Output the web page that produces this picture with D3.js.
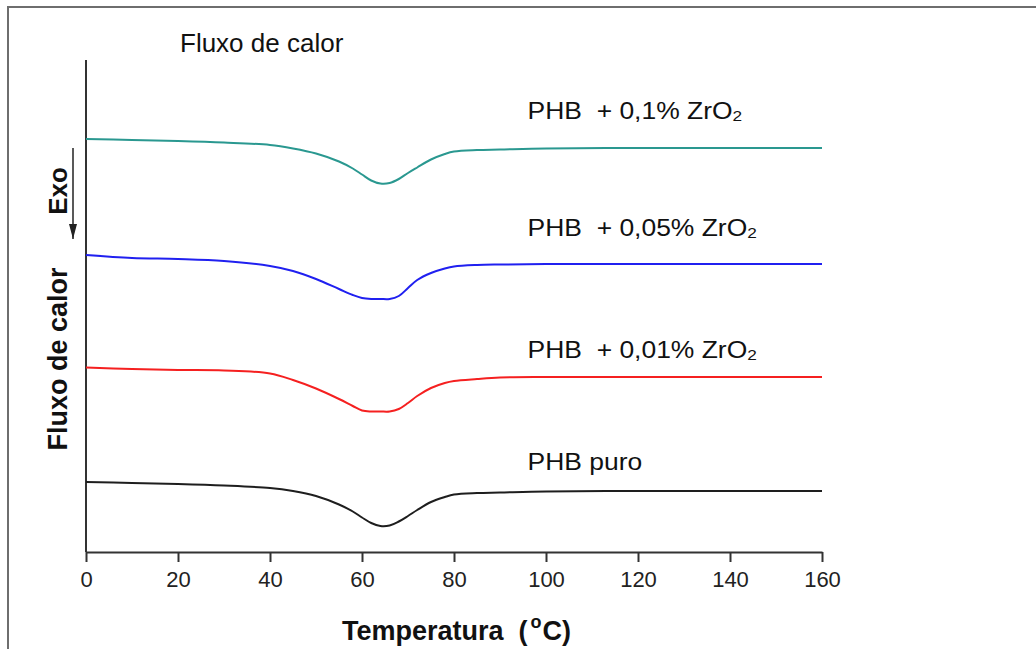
<!DOCTYPE html>
<html>
<head>
<meta charset="utf-8">
<script src="https://cdn.jsdelivr.net/npm/d3@7"></script>
<style>
  body { margin: 0; background: #fff; }
  text { font-family: "Liberation Sans", Arial, sans-serif; }
</style>
</head>
<body>
<div id="chart"></div>
<script>
// temperatures (°C) at which the curves were read
var temps = [0, 10, 20, 30, 40, 45, 50, 55, 58, 60, 62, 64, 66, 68, 70, 72, 75, 78, 80, 85, 90, 100, 120, 140, 160];
// heat flow, arbitrary units (curves are offset vertically)
var phb01 = [82.6, 82.4, 82.2, 81.9, 81.4, 80.7, 79.7, 78.1, 76.7, 75.5, 74.3, 73.7, 73.8, 74.6, 75.8, 76.9, 78.5, 79.6, 80.1, 80.4, 80.5, 80.7, 80.8, 80.8, 80.8];
var phb005 = [59.4, 58.8, 58.6, 58.2, 57.2, 56.2, 54.6, 52.6, 51.4, 50.8, 50.6, 50.6, 50.6, 51.2, 52.8, 54.4, 55.8, 56.7, 57.1, 57.4, 57.5, 57.6, 57.6, 57.6, 57.6];
var phb001 = [36.9, 36.6, 36.4, 36.3, 35.7, 34.4, 32.7, 30.6, 29.2, 28.3, 28.1, 28.1, 28.1, 28.6, 29.8, 31.2, 32.8, 33.8, 34.2, 34.6, 34.9, 35.0, 35.0, 35.0, 35.0];
var phbPuro = [14.0, 13.8, 13.6, 13.3, 12.8, 12.2, 11.2, 9.5, 8.1, 6.9, 5.8, 5.2, 5.3, 6.1, 7.2, 8.4, 10.0, 11.0, 11.5, 11.8, 11.9, 12.1, 12.2, 12.2, 12.2];
var seriesNames = ["PHB  + 0,1% ZrO", "PHB  + 0,05% ZrO", "PHB  + 0,01% ZrO", "PHB puro"];
var seriesSub = ["2", "2", "2", ""];
var seriesColors = ["#2a9890", "#2020f0", "#f52020", "#1e1e1e"];
var xTicks = [0, 20, 40, 60, 80, 100, 120, 140, 160];

var series = [phb01, phb005, phb001, phbPuro].map(function (vals, i) {
    return { name: seriesNames[i], sub: seriesSub[i], color: seriesColors[i],
             points: temps.map(function (t, j) { return [t, vals[j]]; }) };
});

var width = 1036, height = 649;
var svg = d3.select("#chart").append("svg")
    .attr("width", width)
    .attr("height", height);

var x = d3.scaleLinear().domain([0, 160]).range([86, 822]);
var y = d3.scaleLinear().domain([0, 100]).range([552, 52]);

// frame of the figure
svg.append("path")
    .attr("d", "M8,649V7H1036")
    .attr("fill", "none")
    .attr("stroke", "#6e6e6e")
    .attr("stroke-width", 2);

// y axis line (no ticks)
svg.append("line")
    .attr("x1", x(0)).attr("x2", x(0))
    .attr("y1", y(0)).attr("y2", y(98.4))
    .attr("stroke", "#333").attr("stroke-width", 2);

var xAxis = d3.axisBottom(x).tickValues(xTicks).tickSize(10).tickSizeOuter(0).tickPadding(9);
var gx = svg.append("g")
    .attr("transform", "translate(0," + y(0) + ")")
    .call(xAxis);
gx.select(".domain").attr("stroke", "#333").attr("stroke-width", 2);
gx.selectAll(".tick line").attr("stroke", "#333").attr("stroke-width", 2);
gx.selectAll(".tick text")
    .attr("font-size", 22)
    .attr("fill", "#222")
    .style("font-family", "'Liberation Sans', Arial, sans-serif");

var line = d3.line()
    .x(function (d) { return x(d[0]); })
    .y(function (d) { return y(d[1]); })
    .curve(d3.curveCatmullRom.alpha(0.5));

svg.selectAll("path.curve")
    .data(series).enter().append("path")
    .attr("class", "curve")
    .attr("fill", "none")
    .attr("stroke", function (d) { return d.color; })
    .attr("stroke-width", 2)
    .attr("d", function (d) { return line(d.points); });

// series labels (slightly stretched horizontally, as in the original)
var labelY = [y(86.6), y(63.2), y(38.8), y(16.5)];
var labels = svg.selectAll("text.lbl")
    .data(series).enter().append("text")
    .attr("class", "lbl")
    .attr("transform", function (d, i) { return "translate(" + x(96) + "," + labelY[i] + ") scale(1.15,1)"; })
    .attr("font-size", 23)
    .attr("fill", "#111")
    .style("white-space", "pre");
labels.append("tspan").text(function (d) { return d.name; });
labels.append("tspan")
    .attr("font-size", 15)
    .attr("dy", 2)
    .text(function (d) { return d.sub; });

// top label
svg.append("text")
    .attr("x", 180).attr("y", 52)
    .attr("font-size", 26)
    .attr("fill", "#111")
    .text("Fluxo de calor");

// rotated y labels
svg.append("text")
    .attr("transform", "translate(67,359) rotate(-90)")
    .attr("text-anchor", "middle")
    .attr("font-size", 27)
    .attr("font-weight", "bold")
    .attr("fill", "#111")
    .text("Fluxo de calor");
svg.append("text")
    .attr("transform", "translate(67,191) rotate(-90)")
    .attr("text-anchor", "middle")
    .attr("font-size", 26)
    .attr("font-weight", "bold")
    .attr("fill", "#111")
    .text("Exo");

// Exo arrow
svg.append("defs").append("marker")
    .attr("id", "arrow")
    .attr("viewBox", "0 0 15 8")
    .attr("markerUnits", "userSpaceOnUse")
    .attr("refX", 15).attr("refY", 4)
    .attr("markerWidth", 15).attr("markerHeight", 8)
    .attr("orient", "auto")
    .append("path")
    .attr("d", "M0,0L15,4L0,8Z")
    .attr("fill", "#222");
svg.append("line")
    .attr("x1", 73).attr("x2", 73)
    .attr("y1", 148).attr("y2", 239)
    .attr("stroke", "#222").attr("stroke-width", 1.5)
    .attr("marker-end", "url(#arrow)");

// x axis title
var xt = svg.append("text")
    .attr("x", 342).attr("y", 640)
    .attr("font-size", 27)
    .attr("font-weight", "bold")
    .attr("fill", "#111")
    .style("white-space", "pre");
xt.append("tspan").text("Temperatura  (");
xt.append("tspan").attr("font-size", 18).attr("dx", 3).attr("dy", -12).text("o");
xt.append("tspan").attr("dx", 1).attr("dy", 12).text("C)");
</script>
</body>
</html>
